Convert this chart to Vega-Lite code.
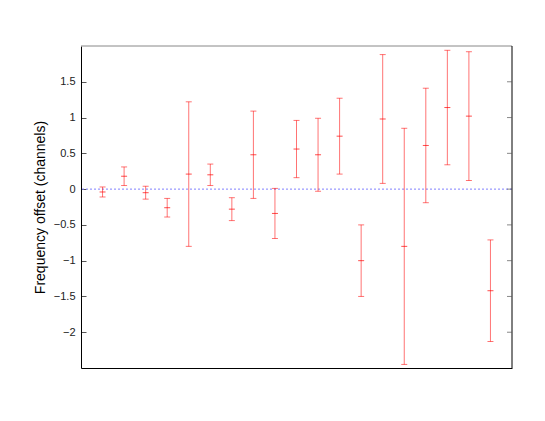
{
  "$schema": "https://vega.github.io/schema/vega-lite/v6.json",
  "width": 431,
  "height": 322,
  "autosize": "none",
  "padding": {"left": 81, "top": 46, "right": 33, "bottom": 53},
  "background": "white",
  "config": {"view": {"stroke": null}, "font": "Liberation Sans"},
  "data": {"values": [
    {"i": 1, "v": -0.04, "lo": -0.11, "hi": 0.03},
    {"i": 2, "v": 0.18, "lo": 0.05, "hi": 0.31},
    {"i": 3, "v": -0.05, "lo": -0.14, "hi": 0.04},
    {"i": 4, "v": -0.26, "lo": -0.39, "hi": -0.13},
    {"i": 5, "v": 0.21, "lo": -0.8, "hi": 1.22},
    {"i": 6, "v": 0.2, "lo": 0.05, "hi": 0.35},
    {"i": 7, "v": -0.28, "lo": -0.44, "hi": -0.12},
    {"i": 8, "v": 0.48, "lo": -0.13, "hi": 1.09},
    {"i": 9, "v": -0.34, "lo": -0.69, "hi": 0.01},
    {"i": 10, "v": 0.56, "lo": 0.16, "hi": 0.96},
    {"i": 11, "v": 0.48, "lo": -0.03, "hi": 0.99},
    {"i": 12, "v": 0.74, "lo": 0.21, "hi": 1.27},
    {"i": 13, "v": -1.0, "lo": -1.5, "hi": -0.5},
    {"i": 14, "v": 0.98, "lo": 0.08, "hi": 1.88},
    {"i": 15, "v": -0.8, "lo": -2.45, "hi": 0.85},
    {"i": 16, "v": 0.61, "lo": -0.19, "hi": 1.41},
    {"i": 17, "v": 1.14, "lo": 0.34, "hi": 1.94},
    {"i": 18, "v": 1.02, "lo": 0.12, "hi": 1.92},
    {"i": 19, "v": -1.42, "lo": -2.13, "hi": -0.71}
  ]},
  "layer": [
    {
      "data": {"values": [{"z": 0}]},
      "mark": {"type": "rule", "color": "#8080ff", "strokeDash": [2, 2], "strokeWidth": 1},
      "encoding": {"y": {"field": "z", "type": "quantitative", "scale": {"domain": [-2.5, 2]}}}
    },
    {
      "mark": {"type": "rule", "color": "#ff0000", "opacity": 0.55, "strokeWidth": 1},
      "encoding": {
        "x": {"field": "i", "type": "quantitative", "scale": {"domain": [0, 20], "nice": false},
              "axis": {"title": null, "labels": false, "ticks": false, "grid": false, "domainColor": "black", "orient": "bottom"}},
        "y": {"field": "lo", "type": "quantitative", "scale": {"domain": [-2.5, 2], "nice": false},
              "axis": {"title": "Frequency offset (channels)", "titleFontSize": 14, "titleFontWeight": "normal", "titleColor": "black", "titlePadding": 6,
                       "values": [-2, -1.5, -1, -0.5, 0, 0.5, 1, 1.5], "format": "~g", "grid": false, "tickSize": -5, "tickColor": "#555", "labelPadding": 11,
                       "labelFontSize": 11, "labelColor": "#222", "domainColor": "black"}},
        "y2": {"field": "hi"}
      }
    },
    {
      "mark": {"type": "tick", "color": "#ff0000", "opacity": 0.55, "orient": "horizontal", "size": 6, "thickness": 1},
      "encoding": {
        "x": {"field": "i", "type": "quantitative"},
        "y": {"field": "lo", "type": "quantitative"}
      }
    },
    {
      "mark": {"type": "tick", "color": "#ff0000", "opacity": 0.55, "orient": "horizontal", "size": 6, "thickness": 1},
      "encoding": {
        "x": {"field": "i", "type": "quantitative"},
        "y": {"field": "hi", "type": "quantitative"}
      }
    },
    {
      "mark": {"type": "tick", "color": "#ff0000", "opacity": 0.7, "orient": "horizontal", "size": 6, "thickness": 1},
      "encoding": {
        "x": {"field": "i", "type": "quantitative"},
        "y": {"field": "v", "type": "quantitative"}
      }
    },
    {
      "data": {"values": [{"a": 0}]},
      "mark": {"type": "rule", "color": "#888888", "strokeWidth": 1},
      "encoding": {"y": {"datum": 2, "type": "quantitative"}}
    },
    {
      "data": {"values": [{"a": 0}]},
      "mark": {"type": "rule", "color": "black", "strokeWidth": 1},
      "encoding": {"x": {"datum": 20, "type": "quantitative"}}
    },
    {
      "data": {"values": [{"t": -2}, {"t": -1.5}, {"t": -1}, {"t": -0.5}, {"t": 0}, {"t": 0.5}, {"t": 1}, {"t": 1.5}]},
      "mark": {"type": "tick", "color": "#555", "orient": "horizontal", "size": 5, "thickness": 1, "xOffset": -2.5},
      "encoding": {"x": {"datum": 20, "type": "quantitative"}, "y": {"field": "t", "type": "quantitative"}}
    }
  ]
}
